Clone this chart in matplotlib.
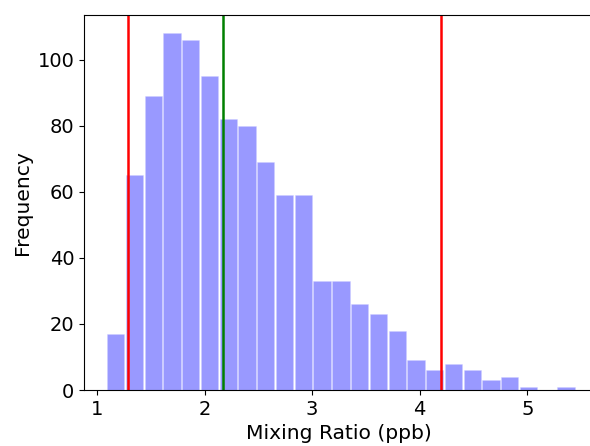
import matplotlib
matplotlib.use('Agg')
import matplotlib.pyplot as plt
import numpy as np

# histogram counts
counts = [17, 65, 89, 108, 106, 95, 82, 80, 69, 59, 59, 33, 33,
          26, 23, 18, 9, 6, 8, 6, 3, 4, 1, 0, 1]
bin_start = 1.087
bin_width = 0.1744

# reference lines (percentiles / median)
red_lines = [1.288, 4.194]
green_line = 2.168

edges = bin_start + bin_width * np.arange(len(counts))

fig = plt.figure(figsize=(5.9, 4.46), dpi=100)
ax = fig.add_axes([84 / 590, 56 / 446, 510 / 590, 375 / 446])

ax.bar(edges + 0.04 * bin_width, counts, width=bin_width * 0.92, align='edge',
       color='blue', alpha=0.4, edgecolor='#ccccff', linewidth=0.6)
for x in red_lines:
    ax.axvline(x, color='red', lw=1.8)
ax.axvline(green_line, color='green', lw=1.8)

ax.set_xlim(0.879, 5.62)
ax.set_ylim(0, 113.6)
ax.set_xticks([1, 2, 3, 4, 5])
ax.set_yticks([0, 20, 40, 60, 80, 100])
ax.tick_params(labelsize=14)
ax.set_xlabel('Mixing Ratio (ppb)', fontsize=14.6)
ax.set_ylabel('Frequency', fontsize=14.6)

fig.savefig('out.png', dpi=100)
